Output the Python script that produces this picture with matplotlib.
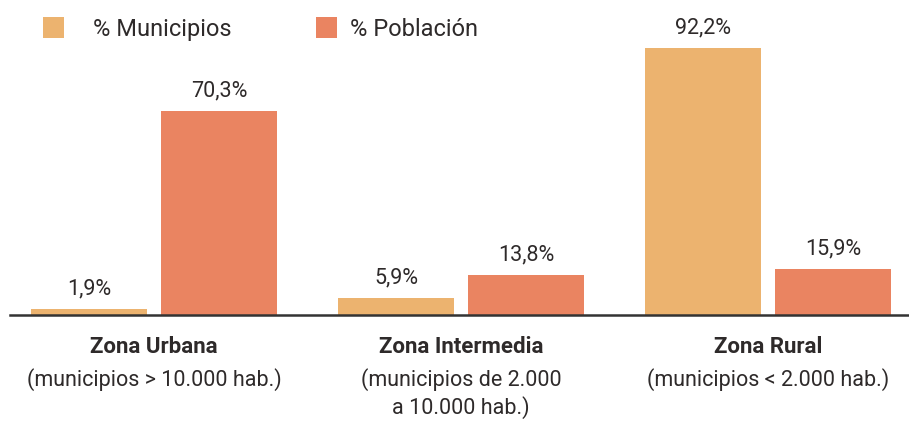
import numpy as np
import matplotlib
matplotlib.use("Agg")
import matplotlib.pyplot as plt
from matplotlib.transforms import blended_transform_factory

# Data
zonas = ["Zona Urbana", "Zona Intermedia", "Zona Rural"]
subtitulos = ["(municipios > 10.000 hab.)", "(municipios de 2.000\na 10.000 hab.)", "(municipios < 2.000 hab.)"]
pct_municipios = [1.9, 5.9, 92.2]
pct_poblacion = [70.3, 13.8, 15.9]
series_names = ["% Municipios", "% Población"]

COLOR_MUN = "#ECB36F"
COLOR_POB = "#EA8461"
TEXT_COLOR = "#2e2a2a"

plt.rcParams['font.family'] = ['Roboto', 'DejaVu Sans']

fig = plt.figure(figsize=(9.09, 4.22), dpi=100)
ax = fig.add_axes([10 / 909, 1 - 315 / 422, 899 / 909, 315 / 422])

x = np.arange(len(zonas))
width = 0.378
offset = 0.212

b1 = ax.bar(x - offset, pct_municipios, width, color=COLOR_MUN, label=series_names[0])
b2 = ax.bar(x + offset, pct_poblacion, width, color=COLOR_POB, label=series_names[1])

def fmt(v):
    return f"{v:.1f}".replace(".", ",") + "%"

for bars, vals in [(b1, pct_municipios), (b2, pct_poblacion)]:
    for rect, v in zip(bars, vals):
        ax.annotate(fmt(v), (rect.get_x() + rect.get_width() / 2, v),
                    xytext=(0, 7), textcoords="offset points",
                    ha="center", va="bottom", fontsize=15.5, color=TEXT_COLOR)

ax.set_xlim(-0.469, 2.458)
ax.set_ylim(0, 108.8)

for s in ["top", "right", "left"]:
    ax.spines[s].set_visible(False)
ax.spines["bottom"].set_color("#333333")
ax.spines["bottom"].set_linewidth(1.8)
ax.set_xticks([])
ax.set_yticks([])

# Category labels below the axis
trans = blended_transform_factory(ax.transData, fig.transFigure)
for i, (z, sub) in enumerate(zip(zonas, subtitulos)):
    ax.text(i, 1 - 347 / 422, z, transform=trans, ha="center", va="center",
            fontsize=16, fontweight="bold", color=TEXT_COLOR)
    ax.text(i, 1 - 368 / 422, sub, transform=trans, ha="center", va="top",
            fontsize=15.5, color=TEXT_COLOR, linespacing=1.3)

# Legend: two entries with different spacing, as in the original
legend_pos = [(43 / 909, 1.2), (316 / 909, 0.55)]
for handle, (x0, pad) in zip([b1, b2], legend_pos):
    leg = fig.legend(handles=[handle], loc="center left",
                     bbox_to_anchor=(x0, 1 - 29 / 422), bbox_transform=fig.transFigure,
                     frameon=False, fontsize=17, borderaxespad=0, borderpad=0,
                     handlelength=0.9, handleheight=1.0, handletextpad=pad)
    for t in leg.get_texts():
        t.set_color(TEXT_COLOR)

fig.savefig("out.png", dpi=100)
